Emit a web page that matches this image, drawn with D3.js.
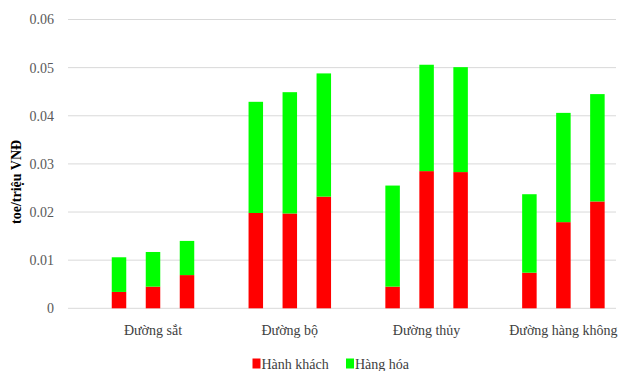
<!DOCTYPE html>
<html>
<head>
<meta charset="utf-8">
<script src="https://cdn.jsdelivr.net/npm/d3@7"></script>
<style>
  html, body { margin: 0; padding: 0; background: #fff; }
  svg { display: block; }
  svg text { font-family: "Liberation Serif", "Times New Roman", "DejaVu Serif", serif; }
</style>
</head>
<body>
<svg id="chart" width="618" height="371"></svg>
<script>
// Energy intensity by transport mode (toe per million VND), three periods each
const categories = ["Đường sắt", "Đường bộ", "Đường thủy", "Đường hàng không"];
const periods = [0, 1, 2];
// Passenger component (red), per category, per period
const passenger = [
  [0.0034, 0.0045, 0.0069],
  [0.0198, 0.0197, 0.0232],
  [0.0045, 0.0285, 0.0283],
  [0.0074, 0.0179, 0.0222]
];
// Freight component (green), stacked on top of passenger
const freight = [
  [0.0072, 0.0072, 0.0071],
  [0.0231, 0.0252, 0.0256],
  [0.0210, 0.0221, 0.0218],
  [0.0163, 0.0227, 0.0223]
];
const seriesNames = ["Hành khách", "Hàng hóa"];
const seriesColors = ["#ff0000", "#00ff00"];
const yTicks = [0, 0.01, 0.02, 0.03, 0.04, 0.05, 0.06];
const yTitle = "toe/triệu VNĐ";

const svg = d3.select("#chart");
const plot = { left: 68, right: 616, top: 19.5, bottom: 308.3 };
// The category bands run a little past the right edge of the canvas
const bandRange = [84.6, 631.8];

const x = d3.scaleBand().domain(categories).range(bandRange).padding(0);
const y = d3.scaleLinear().domain([0, 0.06]).range([plot.bottom, plot.top]);

// Gridlines
svg.append("g")
  .selectAll("line")
  .data(yTicks)
  .join("line")
  .attr("x1", plot.left)
  .attr("x2", plot.right)
  .attr("y1", d => y(d))
  .attr("y2", d => y(d))
  .attr("stroke", "#d9d9d9")
  .attr("stroke-width", 1);

// Y axis labels
const yAxis = svg.append("g")
  .attr("transform", `translate(${plot.left},0)`)
  .call(d3.axisLeft(y).tickValues(yTicks).tickSize(0).tickPadding(14)
    .tickFormat(d => d === 0 ? "0" : d3.format(".2f")(d)));
yAxis.select(".domain").remove();
yAxis.attr("font-family", null);
yAxis.selectAll("text")
  .attr("font-size", 14)
  .attr("fill", "#595959");

// Axis title
svg.append("text")
  .attr("transform", `translate(21,${(plot.top + plot.bottom) / 2 + 18}) rotate(-90)`)
  .attr("text-anchor", "middle")
  .attr("font-size", 14)
  .attr("font-weight", "bold")
  .attr("fill", "#000")
  .text(yTitle);

// Stacked bars: three per category
const barWidth = 14.5;
const slot = 34;
const groups = svg.append("g").selectAll("g")
  .data(categories)
  .join("g");

groups.each(function (cat, ci) {
  const center = x(cat) + x.bandwidth() / 2;
  const xs = d3.scaleBand().domain(periods)
    .range([center - slot * 1.5, center + slot * 1.5])
    .paddingInner(1 - barWidth / slot)
    .paddingOuter((1 - barWidth / slot) / 2);
  const g = d3.select(this);
  periods.forEach(p => {
    const p0 = passenger[ci][p];
    const f0 = freight[ci][p];
    g.append("rect")
      .attr("x", xs(p))
      .attr("width", xs.bandwidth())
      .attr("y", y(p0))
      .attr("height", y(0) - y(p0))
      .attr("fill", seriesColors[0]);
    g.append("rect")
      .attr("x", xs(p))
      .attr("width", xs.bandwidth())
      .attr("y", y(p0 + f0))
      .attr("height", y(p0) - y(p0 + f0))
      .attr("fill", seriesColors[1]);
  });
});

// Category labels
svg.append("g")
  .selectAll("text")
  .data(categories)
  .join("text")
  .attr("x", d => x(d) + x.bandwidth() / 2)
  .attr("y", 335)
  .attr("text-anchor", "middle")
  .attr("font-size", 14)
  .attr("fill", "#404040")
  .text(d => d);

// Legend
const legend = svg.append("g");
const legendItems = [
  { name: seriesNames[0], color: seriesColors[0], x: 252.5 },
  { name: seriesNames[1], color: seriesColors[1], x: 346 }
];
legendItems.forEach(it => {
  legend.append("rect")
    .attr("x", it.x)
    .attr("y", 358.5)
    .attr("width", 8)
    .attr("height", 10)
    .attr("fill", it.color);
  legend.append("text")
    .attr("x", it.x + 9)
    .attr("y", 369)
    .attr("font-size", 14)
    .attr("fill", "#404040")
    .text(it.name);
});
</script>
</body>
</html>
